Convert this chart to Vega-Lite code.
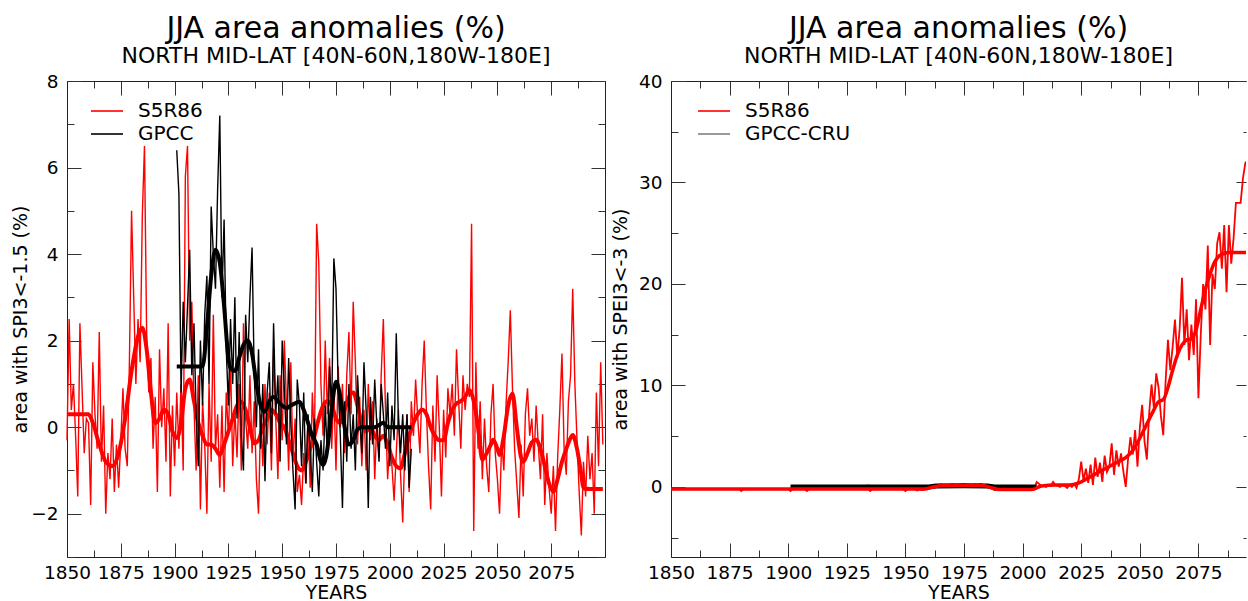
{
  "$schema": "https://vega.github.io/schema/vega-lite/v6.json",
  "background": "white",
  "padding": {"left": 11, "top": 14, "right": 0, "bottom": 0},
  "spacing": 0,
  "config": {
    "font": "DejaVu Sans",
    "view": {"stroke": null},
    "axis": {"domainColor": "#222", "domainWidth": 1, "tickColor": "#333", "tickWidth": 1, "labelFont": "DejaVu Sans", "labelFontSize": 18.5, "labelColor": "#000", "titleFont": "DejaVu Sans", "titleFontSize": 19, "titleFontWeight": "normal", "titleColor": "#000", "grid": false, "labelFlush": false, "labelOverlap": false, "labelBound": false},
    "title": {"font": "DejaVu Sans", "fontSize": 30, "fontWeight": "normal", "color": "#000", "subtitleFont": "DejaVu Sans", "subtitleFontSize": 22, "subtitleColor": "#000", "anchor": "middle", "offset": 5, "subtitlePadding": 2},
    "legend": {"labelFont": "DejaVu Sans", "labelFontSize": 20, "labelColor": "#000", "symbolType": "M-1.6,0H1.6", "symbolSize": 400, "symbolStrokeWidth": 1.6, "labelOffset": 20, "rowPadding": 2, "padding": 0, "orient": "none"}
  },
  "datasets": {
    "ls": [{"t":1850,"v":-0.3},{"t":1851,"v":2.5},{"t":1852,"v":0.4},{"t":1853,"v":1.0},{"t":1854,"v":-0.2},{"t":1855,"v":-1.6},{"t":1856,"v":2.4},{"t":1857,"v":0.9},{"t":1858,"v":-0.6},{"t":1859,"v":0.2},
      {"t":1860,"v":0.1},{"t":1861,"v":-1.8},{"t":1862,"v":1.5},{"t":1863,"v":0.3},{"t":1864,"v":-0.5},{"t":1865,"v":2.2},{"t":1866,"v":-0.8},{"t":1867,"v":0.5},{"t":1868,"v":-2.0},{"t":1869,"v":-0.6},
      {"t":1870,"v":-1.2},{"t":1871,"v":0.2},{"t":1872,"v":-1.5},{"t":1873,"v":-0.4},{"t":1874,"v":-1.4},{"t":1875,"v":-0.3},{"t":1876,"v":0.9},{"t":1877,"v":-0.5},{"t":1878,"v":-0.9},{"t":1879,"v":1.5},
      {"t":1880,"v":5.0},{"t":1881,"v":3.0},{"t":1882,"v":1.0},{"t":1883,"v":2.5},{"t":1884,"v":1.5},{"t":1885,"v":4.9},{"t":1886,"v":6.5},{"t":1887,"v":2.2},{"t":1888,"v":0.8},{"t":1889,"v":1.6},
      {"t":1890,"v":-0.5},{"t":1891,"v":0.7},{"t":1892,"v":-1.5},{"t":1893,"v":1.8},{"t":1894,"v":0.0},{"t":1895,"v":0.9},{"t":1896,"v":-0.8},{"t":1897,"v":2.4},{"t":1898,"v":-1.6},{"t":1899,"v":0.5},
      {"t":1900,"v":-0.9},{"t":1901,"v":0.8},{"t":1902,"v":-0.5},{"t":1903,"v":1.0},{"t":1904,"v":-1.0},{"t":1905,"v":5.8},{"t":1906,"v":6.5},{"t":1907,"v":2.0},{"t":1908,"v":2.9},{"t":1909,"v":0.5},
      {"t":1910,"v":-1.0},{"t":1911,"v":1.2},{"t":1912,"v":-1.9},{"t":1913,"v":0.6},{"t":1914,"v":-0.4},{"t":1915,"v":-2.0},{"t":1916,"v":1.0},{"t":1917,"v":-0.8},{"t":1918,"v":2.6},{"t":1919,"v":-0.5},
      {"t":1920,"v":0.3},{"t":1921,"v":-1.4},{"t":1922,"v":0.5},{"t":1923,"v":-1.5},{"t":1924,"v":0.8},{"t":1925,"v":-0.2},{"t":1926,"v":1.5},{"t":1927,"v":-0.9},{"t":1928,"v":0.4},{"t":1929,"v":-0.7},
      {"t":1930,"v":1.0},{"t":1931,"v":-1.0},{"t":1932,"v":2.4},{"t":1933,"v":0.2},{"t":1934,"v":-0.5},{"t":1935,"v":1.2},{"t":1936,"v":-0.6},{"t":1937,"v":0.6},{"t":1938,"v":-1.2},{"t":1939,"v":-2.0},
      {"t":1940,"v":0.3},{"t":1941,"v":-0.9},{"t":1942,"v":1.0},{"t":1943,"v":-0.4},{"t":1944,"v":0.8},{"t":1945,"v":-1.0},{"t":1946,"v":1.8},{"t":1947,"v":0.2},{"t":1948,"v":-1.2},{"t":1949,"v":1.2},
      {"t":1950,"v":-0.3},{"t":1951,"v":2.0},{"t":1952,"v":0.5},{"t":1953,"v":-1.0},{"t":1954,"v":1.5},{"t":1955,"v":-0.8},{"t":1956,"v":0.2},{"t":1957,"v":-1.5},{"t":1958,"v":-1.1},{"t":1959,"v":-1.8},
      {"t":1960,"v":-0.6},{"t":1961,"v":-1.3},{"t":1962,"v":0.2},{"t":1963,"v":-1.4},{"t":1964,"v":0.8},{"t":1965,"v":-0.4},{"t":1966,"v":4.7},{"t":1967,"v":3.8},{"t":1968,"v":1.0},{"t":1969,"v":-0.2},
      {"t":1970,"v":2.0},{"t":1971,"v":0.3},{"t":1972,"v":1.6},{"t":1973,"v":-0.5},{"t":1974,"v":0.9},{"t":1975,"v":-1.0},{"t":1976,"v":1.4},{"t":1977,"v":0.0},{"t":1978,"v":1.0},{"t":1979,"v":-0.6},
      {"t":1980,"v":1.2},{"t":1981,"v":2.2},{"t":1982,"v":0.3},{"t":1983,"v":2.9},{"t":1984,"v":1.5},{"t":1985,"v":-0.4},{"t":1986,"v":0.7},{"t":1987,"v":-0.9},{"t":1988,"v":0.4},{"t":1989,"v":-1.0},
      {"t":1990,"v":1.0},{"t":1991,"v":-0.3},{"t":1992,"v":0.6},{"t":1993,"v":-1.2},{"t":1994,"v":0.2},{"t":1995,"v":-0.7},{"t":1996,"v":1.2},{"t":1997,"v":2.5},{"t":1998,"v":0.4},{"t":1999,"v":-1.2},
      {"t":2000,"v":-0.3},{"t":2001,"v":-0.9},{"t":2002,"v":-1.7},{"t":2003,"v":-0.6},{"t":2004,"v":0.4},{"t":2005,"v":-1.1},{"t":2006,"v":-2.2},{"t":2007,"v":-0.5},{"t":2008,"v":0.3},{"t":2009,"v":-1.5},
      {"t":2010,"v":0.6},{"t":2011,"v":-0.2},{"t":2012,"v":1.1},{"t":2013,"v":0.2},{"t":2014,"v":-0.6},{"t":2015,"v":1.0},{"t":2016,"v":2.0},{"t":2017,"v":0.4},{"t":2018,"v":-0.9},{"t":2019,"v":-1.9},
      {"t":2020,"v":0.5},{"t":2021,"v":-0.8},{"t":2022,"v":1.2},{"t":2023,"v":0.0},{"t":2024,"v":-1.6},{"t":2025,"v":0.4},{"t":2026,"v":-0.7},{"t":2027,"v":0.9},{"t":2028,"v":0.3},{"t":2029,"v":1.0},
      {"t":2030,"v":-0.2},{"t":2031,"v":1.8},{"t":2032,"v":0.6},{"t":2033,"v":-0.5},{"t":2034,"v":1.2},{"t":2035,"v":0.4},{"t":2036,"v":1.0},{"t":2037,"v":0.7},{"t":2038,"v":4.7},{"t":2039,"v":-2.4},
      {"t":2040,"v":1.5},{"t":2041,"v":-0.5},{"t":2042,"v":0.6},{"t":2043,"v":-1.2},{"t":2044,"v":0.2},{"t":2045,"v":-0.9},{"t":2046,"v":-1.5},{"t":2047,"v":0.3},{"t":2048,"v":1.0},{"t":2049,"v":-0.6},
      {"t":2050,"v":-1.2},{"t":2051,"v":-2.0},{"t":2052,"v":-0.3},{"t":2053,"v":-1.0},{"t":2054,"v":0.5},{"t":2055,"v":1.5},{"t":2056,"v":2.7},{"t":2057,"v":0.9},{"t":2058,"v":-0.5},{"t":2059,"v":-1.3},
      {"t":2060,"v":-2.1},{"t":2061,"v":-0.4},{"t":2062,"v":-1.6},{"t":2063,"v":0.3},{"t":2064,"v":0.9},{"t":2065,"v":-0.2},{"t":2066,"v":0.2},{"t":2067,"v":-0.8},{"t":2068,"v":0.5},{"t":2069,"v":-0.4},
      {"t":2070,"v":-1.2},{"t":2071,"v":0.3},{"t":2072,"v":-1.8},{"t":2073,"v":-0.6},{"t":2074,"v":-1.4},{"t":2075,"v":-2.0},{"t":2076,"v":-0.9},{"t":2077,"v":-2.4},{"t":2078,"v":-0.7},{"t":2079,"v":0.4},
      {"t":2080,"v":1.7},{"t":2081,"v":-0.5},{"t":2082,"v":-1.1},{"t":2083,"v":0.6},{"t":2084,"v":1.2},{"t":2085,"v":3.2},{"t":2086,"v":1.0},{"t":2087,"v":-0.3},{"t":2088,"v":-1.5},{"t":2089,"v":-2.5},
      {"t":2090,"v":-0.8},{"t":2091,"v":-1.6},{"t":2092,"v":-0.2},{"t":2093,"v":-1.2},{"t":2094,"v":-0.6},{"t":2095,"v":-2.0},{"t":2096,"v":0.8},{"t":2097,"v":-0.9},{"t":2098,"v":1.5},{"t":2099,"v":-0.4}],
    "lss": [{"t":1850,"v":0.3},{"t":1853,"v":0.3},{"t":1856,"v":0.3},{"t":1860,"v":0.3},{"t":1862,"v":0.1},{"t":1865,"v":-0.4},{"t":1868,"v":-0.8},{"t":1871,"v":-0.9},{"t":1874,"v":-0.6},{"t":1877,"v":0.2},
      {"t":1880,"v":1.3},{"t":1883,"v":2.1},{"t":1885,"v":2.3},{"t":1887,"v":1.8},{"t":1889,"v":0.8},{"t":1891,"v":0.1},{"t":1893,"v":0.2},{"t":1895,"v":0.4},{"t":1897,"v":0.3},{"t":1899,"v":-0.1},
      {"t":1901,"v":-0.25},{"t":1903,"v":0.1},{"t":1905,"v":0.9},{"t":1907,"v":1.1},{"t":1909,"v":0.6},{"t":1911,"v":0.1},{"t":1913,"v":-0.2},{"t":1915,"v":-0.4},{"t":1917,"v":-0.4},{"t":1919,"v":-0.5},
      {"t":1921,"v":-0.64},{"t":1923,"v":-0.4},{"t":1925,"v":-0.1},{"t":1927,"v":0.2},{"t":1929,"v":0.5},{"t":1931,"v":0.59},{"t":1933,"v":0.4},{"t":1935,"v":0.0},{"t":1937,"v":-0.37},{"t":1939,"v":-0.3},
      {"t":1941,"v":0.0},{"t":1943,"v":0.2},{"t":1945,"v":0.4},{"t":1947,"v":0.3},{"t":1949,"v":0.1},{"t":1951,"v":0.0},{"t":1953,"v":-0.3},{"t":1955,"v":-0.6},{"t":1957,"v":-0.9},{"t":1959,"v":-1.0},
      {"t":1961,"v":-0.8},{"t":1963,"v":-0.5},{"t":1965,"v":-0.2},{"t":1967,"v":0.2},{"t":1969,"v":0.5},{"t":1971,"v":0.6},{"t":1973,"v":0.5},{"t":1975,"v":0.2},{"t":1977,"v":0.1},{"t":1979,"v":0.4},
      {"t":1981,"v":0.7},{"t":1983,"v":0.8},{"t":1985,"v":0.5},{"t":1987,"v":0.1},{"t":1989,"v":-0.1},{"t":1991,"v":0.0},{"t":1993,"v":-0.2},{"t":1995,"v":-0.3},{"t":1997,"v":-0.2},{"t":1999,"v":-0.4},
      {"t":2001,"v":-0.7},{"t":2003,"v":-0.9},{"t":2005,"v":-0.95},{"t":2007,"v":-0.6},{"t":2009,"v":-0.2},{"t":2011,"v":0.1},{"t":2013,"v":0.3},{"t":2015,"v":0.4},{"t":2017,"v":0.3},{"t":2019,"v":0.0},
      {"t":2021,"v":-0.2},{"t":2023,"v":-0.3},{"t":2025,"v":-0.3},{"t":2027,"v":0.1},{"t":2029,"v":0.4},{"t":2031,"v":0.55},{"t":2033,"v":0.6},{"t":2035,"v":0.7},{"t":2037,"v":0.86},{"t":2039,"v":0.6},
      {"t":2041,"v":0.0},{"t":2043,"v":-0.75},{"t":2045,"v":-0.6},{"t":2047,"v":-0.4},{"t":2048,"v":-0.29},{"t":2050,"v":-0.5},{"t":2051,"v":-0.64},{"t":2053,"v":-0.2},{"t":2055,"v":0.5},{"t":2057,"v":0.78},
      {"t":2059,"v":0.0},{"t":2061,"v":-0.7},{"t":2062,"v":-0.8},{"t":2064,"v":-0.6},{"t":2066,"v":-0.35},{"t":2068,"v":-0.29},{"t":2070,"v":-0.5},{"t":2072,"v":-0.9},{"t":2074,"v":-1.3},{"t":2076,"v":-1.49},
      {"t":2078,"v":-1.2},{"t":2080,"v":-0.8},{"t":2082,"v":-0.5},{"t":2084,"v":-0.25},{"t":2085,"v":-0.18},{"t":2087,"v":-0.5},{"t":2089,"v":-1.1},{"t":2090,"v":-1.41},{"t":2093,"v":-1.43},{"t":2096,"v":-1.43},{"t":2099,"v":-1.43}],
    "lg": [{"t":1901,"v":6.4},{"t":1902,"v":5.4},{"t":1903,"v":0.8},{"t":1904,"v":2.9},{"t":1905,"v":1.5},{"t":1906,"v":2.8},{"t":1907,"v":4.1},{"t":1908,"v":1.2},{"t":1909,"v":2.4},
      {"t":1910,"v":0.3},{"t":1911,"v":-0.9},{"t":1912,"v":2.0},{"t":1913,"v":0.5},{"t":1914,"v":2.6},{"t":1915,"v":3.5},{"t":1916,"v":1.0},{"t":1917,"v":5.1},{"t":1918,"v":4.0},{"t":1919,"v":3.2},
      {"t":1920,"v":5.5},{"t":1921,"v":7.2},{"t":1922,"v":3.0},{"t":1923,"v":4.8},{"t":1924,"v":1.8},{"t":1925,"v":0.5},{"t":1926,"v":2.5},{"t":1927,"v":1.0},{"t":1928,"v":3.0},{"t":1929,"v":0.2},
      {"t":1930,"v":2.2},{"t":1931,"v":-0.2},{"t":1932,"v":-1.0},{"t":1933,"v":2.6},{"t":1934,"v":1.5},{"t":1935,"v":3.0},{"t":1936,"v":4.15},{"t":1937,"v":1.2},{"t":1938,"v":0.0},{"t":1939,"v":1.8},
      {"t":1940,"v":-0.5},{"t":1941,"v":1.0},{"t":1942,"v":-1.25},{"t":1943,"v":0.8},{"t":1944,"v":1.5},{"t":1945,"v":-0.6},{"t":1946,"v":2.4},{"t":1947,"v":0.3},{"t":1948,"v":1.2},{"t":1949,"v":-0.8},
      {"t":1950,"v":2.0},{"t":1951,"v":0.9},{"t":1952,"v":-0.4},{"t":1953,"v":1.6},{"t":1954,"v":0.1},{"t":1955,"v":-1.0},{"t":1956,"v":-1.9},{"t":1957,"v":1.1},{"t":1958,"v":0.5},{"t":1959,"v":-0.9},
      {"t":1960,"v":0.8},{"t":1961,"v":-1.3},{"t":1962,"v":0.3},{"t":1963,"v":-0.5},{"t":1964,"v":-1.5},{"t":1965,"v":0.2},{"t":1966,"v":-0.8},{"t":1967,"v":-1.6},{"t":1968,"v":-0.3},{"t":1969,"v":-1.0},
      {"t":1970,"v":0.5},{"t":1971,"v":-0.7},{"t":1972,"v":1.4},{"t":1973,"v":0.4},{"t":1974,"v":3.9},{"t":1975,"v":3.2},{"t":1976,"v":1.0},{"t":1977,"v":-0.2},{"t":1978,"v":-1.87},{"t":1979,"v":0.6},
      {"t":1980,"v":-0.8},{"t":1981,"v":1.0},{"t":1982,"v":-0.5},{"t":1983,"v":0.3},{"t":1984,"v":-1.0},{"t":1985,"v":1.2},{"t":1986,"v":0.2},{"t":1987,"v":-0.6},{"t":1988,"v":1.5},{"t":1989,"v":0.4},
      {"t":1990,"v":-1.87},{"t":1991,"v":0.7},{"t":1992,"v":-0.4},{"t":1993,"v":1.1},{"t":1994,"v":0.0},{"t":1995,"v":-0.8},{"t":1996,"v":1.0},{"t":1997,"v":0.3},{"t":1998,"v":-0.5},{"t":1999,"v":0.8},
      {"t":2000,"v":-0.9},{"t":2001,"v":0.5},{"t":2002,"v":-0.3},{"t":2003,"v":2.17},{"t":2004,"v":0.2},{"t":2005,"v":-0.6},{"t":2006,"v":0.3},{"t":2007,"v":-1.0},{"t":2008,"v":0.3},{"t":2009,"v":-1.4},{"t":2010,"v":-0.5}],
    "lgs": [{"t":1901,"v":1.4},{"t":1904,"v":1.4},{"t":1907,"v":1.4},{"t":1910,"v":1.4},{"t":1913,"v":1.4},{"t":1915,"v":2.3},{"t":1917,"v":3.5},{"t":1919,"v":4.1},{"t":1921,"v":3.8},{"t":1923,"v":2.8},
      {"t":1925,"v":1.6},{"t":1926,"v":1.36},{"t":1928,"v":1.3},{"t":1930,"v":1.6},{"t":1932,"v":1.9},{"t":1934,"v":2.0},{"t":1936,"v":1.7},{"t":1938,"v":1.0},{"t":1940,"v":0.5},{"t":1942,"v":0.36},
      {"t":1944,"v":0.6},{"t":1946,"v":0.7},{"t":1948,"v":0.6},{"t":1950,"v":0.5},{"t":1952,"v":0.44},{"t":1954,"v":0.5},{"t":1956,"v":0.55},{"t":1958,"v":0.59},{"t":1960,"v":0.4},{"t":1962,"v":0.1},
      {"t":1964,"v":-0.2},{"t":1966,"v":-0.4},{"t":1968,"v":-0.8},{"t":1969,"v":-0.87},{"t":1971,"v":-0.5},{"t":1973,"v":0.4},{"t":1975,"v":1.05},{"t":1977,"v":0.7},{"t":1979,"v":0.0},{"t":1981,"v":-0.4},
      {"t":1983,"v":-0.3},{"t":1985,"v":-0.05},{"t":1987,"v":0.0},{"t":1990,"v":0.0},{"t":1993,"v":0.0},{"t":1995,"v":0.05},{"t":1997,"v":0.1},{"t":1999,"v":0.0},{"t":2001,"v":0.0},{"t":2004,"v":0.0},{"t":2007,"v":0.0},{"t":2010,"v":0.0}],
    "rs": [{"t":1850,"v":-0.2},{"t":1851,"v":-0.2},{"t":1852,"v":-0.2},{"t":1853,"v":-0.2},{"t":1854,"v":-0.2},{"t":1855,"v":-0.2},{"t":1856,"v":-0.2},{"t":1857,"v":-0.2},{"t":1858,"v":-0.2},{"t":1859,"v":-0.2},
      {"t":1860,"v":-0.2},{"t":1861,"v":-0.2},{"t":1862,"v":-0.2},{"t":1863,"v":-0.2},{"t":1864,"v":-0.2},{"t":1865,"v":-0.2},{"t":1866,"v":-0.2},{"t":1867,"v":-0.2},{"t":1868,"v":-0.2},{"t":1869,"v":-0.2},
      {"t":1870,"v":-0.2},{"t":1871,"v":-0.2},{"t":1872,"v":-0.2},{"t":1873,"v":-0.2},{"t":1874,"v":-0.2},{"t":1875,"v":-0.2},{"t":1876,"v":-0.2},{"t":1877,"v":-0.2},{"t":1878,"v":-0.2},{"t":1879,"v":-0.2},
      {"t":1880,"v":-0.4},{"t":1881,"v":-0.2},{"t":1882,"v":-0.2},{"t":1883,"v":-0.2},{"t":1884,"v":-0.2},{"t":1885,"v":-0.2},{"t":1886,"v":-0.2},{"t":1887,"v":-0.2},{"t":1888,"v":-0.2},{"t":1889,"v":-0.2},
      {"t":1890,"v":-0.2},{"t":1891,"v":-0.2},{"t":1892,"v":-0.2},{"t":1893,"v":-0.2},{"t":1894,"v":-0.2},{"t":1895,"v":-0.2},{"t":1896,"v":-0.2},{"t":1897,"v":-0.2},{"t":1898,"v":-0.2},{"t":1899,"v":-0.2},
      {"t":1900,"v":-0.2},{"t":1901,"v":-0.4},{"t":1902,"v":-0.2},{"t":1903,"v":-0.2},{"t":1904,"v":-0.2},{"t":1905,"v":-0.2},{"t":1906,"v":-0.2},{"t":1907,"v":-0.2},{"t":1908,"v":-0.4},{"t":1909,"v":-0.2},
      {"t":1910,"v":-0.2},{"t":1911,"v":-0.2},{"t":1912,"v":-0.2},{"t":1913,"v":-0.2},{"t":1914,"v":-0.2},{"t":1915,"v":-0.2},{"t":1916,"v":-0.2},{"t":1917,"v":-0.2},{"t":1918,"v":-0.2},{"t":1919,"v":-0.2},
      {"t":1920,"v":-0.2},{"t":1921,"v":-0.2},{"t":1922,"v":-0.2},{"t":1923,"v":-0.2},{"t":1924,"v":-0.2},{"t":1925,"v":-0.2},{"t":1926,"v":-0.2},{"t":1927,"v":-0.2},{"t":1928,"v":-0.2},{"t":1929,"v":-0.2},
      {"t":1930,"v":-0.2},{"t":1931,"v":-0.2},{"t":1932,"v":-0.2},{"t":1933,"v":-0.2},{"t":1934,"v":-0.2},{"t":1935,"v":-0.4},{"t":1936,"v":-0.2},{"t":1937,"v":-0.2},{"t":1938,"v":-0.2},{"t":1939,"v":-0.2},
      {"t":1940,"v":-0.2},{"t":1941,"v":-0.2},{"t":1942,"v":-0.2},{"t":1943,"v":-0.2},{"t":1944,"v":-0.2},{"t":1945,"v":-0.2},{"t":1946,"v":-0.2},{"t":1947,"v":-0.2},{"t":1948,"v":-0.2},{"t":1949,"v":-0.2},
      {"t":1950,"v":-0.4},{"t":1951,"v":-0.2},{"t":1952,"v":-0.2},{"t":1953,"v":-0.2},{"t":1954,"v":-0.2},{"t":1955,"v":-0.35},{"t":1956,"v":-0.25},{"t":1957,"v":-0.3},{"t":1958,"v":-0.25},{"t":1959,"v":-0.2},
      {"t":1960,"v":-0.1},{"t":1961,"v":0.0},{"t":1962,"v":0.1},{"t":1963,"v":0.2},{"t":1964,"v":0.2},{"t":1965,"v":0.25},{"t":1966,"v":0.2},{"t":1967,"v":0.15},{"t":1968,"v":0.2},{"t":1969,"v":0.2},
      {"t":1970,"v":0.25},{"t":1971,"v":0.2},{"t":1972,"v":0.15},{"t":1973,"v":0.2},{"t":1974,"v":0.25},{"t":1975,"v":0.3},{"t":1976,"v":0.2},{"t":1977,"v":0.2},{"t":1978,"v":0.15},{"t":1979,"v":0.2},
      {"t":1980,"v":0.25},{"t":1981,"v":0.2},{"t":1982,"v":0.3},{"t":1983,"v":0.2},{"t":1984,"v":0.15},{"t":1985,"v":0.1},{"t":1986,"v":0.0},{"t":1987,"v":-0.2},{"t":1988,"v":-0.3},{"t":1989,"v":-0.25},
      {"t":1990,"v":-0.3},{"t":1991,"v":-0.25},{"t":1992,"v":-0.3},{"t":1993,"v":-0.2},{"t":1994,"v":-0.3},{"t":1995,"v":-0.25},{"t":1996,"v":-0.3},{"t":1997,"v":-0.2},{"t":1998,"v":-0.3},{"t":1999,"v":-0.25},
      {"t":2000,"v":-0.1},{"t":2001,"v":-0.2},{"t":2002,"v":-0.2},{"t":2003,"v":-0.1},{"t":2004,"v":-0.2},{"t":2005,"v":-0.1},{"t":2006,"v":0.5},{"t":2007,"v":0.3},{"t":2008,"v":0.1},{"t":2009,"v":0.2},
      {"t":2010,"v":0.0},{"t":2011,"v":0.2},{"t":2012,"v":0.1},{"t":2013,"v":0.5},{"t":2014,"v":0.2},{"t":2015,"v":0.1},{"t":2016,"v":0.0},{"t":2017,"v":0.2},{"t":2018,"v":0.1},{"t":2019,"v":-0.1},
      {"t":2020,"v":0.2},{"t":2021,"v":0.0},{"t":2022,"v":0.3},{"t":2023,"v":-0.1},{"t":2024,"v":0.8},{"t":2025,"v":2.5},{"t":2026,"v":0.6},{"t":2027,"v":1.8},{"t":2028,"v":0.4},{"t":2029,"v":2.2},
      {"t":2030,"v":0.2},{"t":2031,"v":2.9},{"t":2032,"v":1.0},{"t":2033,"v":2.4},{"t":2034,"v":0.5},{"t":2035,"v":3.1},{"t":2036,"v":1.5},{"t":2037,"v":2.0},{"t":2038,"v":4.3},{"t":2039,"v":1.2},
      {"t":2040,"v":3.6},{"t":2041,"v":2.0},{"t":2042,"v":3.3},{"t":2043,"v":1.5},{"t":2044,"v":0.0},{"t":2045,"v":2.8},{"t":2046,"v":4.9},{"t":2047,"v":3.2},{"t":2048,"v":5.6},{"t":2049,"v":2.0},
      {"t":2050,"v":5.8},{"t":2051,"v":8.1},{"t":2052,"v":4.5},{"t":2053,"v":2.7},{"t":2054,"v":7.3},{"t":2055,"v":10.1},{"t":2056,"v":7.8},{"t":2057,"v":11.2},{"t":2058,"v":9.8},{"t":2059,"v":7.0},
      {"t":2060,"v":5.1},{"t":2061,"v":10.4},{"t":2062,"v":14.5},{"t":2063,"v":11.5},{"t":2064,"v":13.8},{"t":2065,"v":16.5},{"t":2066,"v":12.8},{"t":2067,"v":15.6},{"t":2068,"v":20.6},{"t":2069,"v":14.0},
      {"t":2070,"v":17.5},{"t":2071,"v":12.5},{"t":2072,"v":16.0},{"t":2073,"v":13.0},{"t":2074,"v":18.5},{"t":2075,"v":8.75},{"t":2076,"v":15.0},{"t":2077,"v":20.0},{"t":2078,"v":17.5},{"t":2079,"v":23.8},
      {"t":2080,"v":14.0},{"t":2081,"v":21.0},{"t":2082,"v":19.5},{"t":2083,"v":24.0},{"t":2084,"v":25.1},{"t":2085,"v":21.5},{"t":2086,"v":25.8},{"t":2087,"v":19.2},{"t":2088,"v":25.8},{"t":2089,"v":22.0},
      {"t":2090,"v":24.5},{"t":2091,"v":28.0},{"t":2092,"v":28.0},{"t":2093,"v":28.0},{"t":2094,"v":30.4},{"t":2095,"v":31.9},{"t":2096,"v":32.2},{"t":2097,"v":32.4},{"t":2098,"v":32.6},{"t":2099,"v":33.0}],
    "rss": [{"t":1850,"v":-0.2},{"t":1880,"v":-0.2},{"t":1900,"v":-0.2},{"t":1930,"v":-0.2},{"t":1958,"v":-0.2},{"t":1962,"v":0.0},{"t":1966,"v":0.15},{"t":1975,"v":0.18},{"t":1983,"v":0.15},{"t":1987,"v":-0.1},
      {"t":1990,"v":-0.25},{"t":1997,"v":-0.25},{"t":2004,"v":-0.25},{"t":2008,"v":0.1},{"t":2014,"v":0.2},{"t":2020,"v":0.2},{"t":2024,"v":0.4},{"t":2028,"v":0.9},{"t":2032,"v":1.4},{"t":2036,"v":1.9},
      {"t":2040,"v":2.4},{"t":2044,"v":2.9},{"t":2047,"v":3.6},{"t":2050,"v":4.8},{"t":2053,"v":6.2},{"t":2056,"v":7.6},{"t":2058,"v":8.4},{"t":2060,"v":8.6},{"t":2062,"v":9.8},{"t":2064,"v":11.5},
      {"t":2066,"v":13.0},{"t":2068,"v":14.0},{"t":2070,"v":14.5},{"t":2072,"v":14.6},{"t":2074,"v":15.5},{"t":2076,"v":17.5},{"t":2078,"v":19.5},{"t":2080,"v":21.0},{"t":2082,"v":22.2},{"t":2084,"v":22.8},
      {"t":2086,"v":23.0},{"t":2088,"v":23.1},{"t":2092,"v":23.1},{"t":2096,"v":23.1},{"t":2099,"v":23.1}],
    "rg": [{"t":1901,"v":0.0},{"t":1905,"v":0.05},{"t":1910,"v":0.0},{"t":1915,"v":0.05},{"t":1920,"v":0.0},{"t":1925,"v":0.05},{"t":1930,"v":0.0},{"t":1934,"v":0.15},{"t":1938,"v":0.0},{"t":1945,"v":0.05},
      {"t":1950,"v":0.0},{"t":1955,"v":0.05},{"t":1960,"v":0.0},{"t":1963,"v":0.15},{"t":1968,"v":0.1},{"t":1972,"v":0.2},{"t":1976,"v":0.1},{"t":1980,"v":0.15},{"t":1984,"v":0.1},{"t":1988,"v":0.0},
      {"t":1992,"v":0.05},{"t":1996,"v":0.0},{"t":2000,"v":0.05},{"t":2003,"v":0.0},{"t":2006,"v":0.0}],
    "rgs": [{"t":1901,"v":0.0},{"t":1915,"v":0.0},{"t":1930,"v":0.0},{"t":1945,"v":0.0},{"t":1960,"v":0.0},{"t":1963,"v":0.1},{"t":1975,"v":0.12},{"t":1985,"v":0.1},{"t":1988,"v":0.0},{"t":2000,"v":0.0},{"t":2006,"v":0.0}]
  },
  "resolve": {"scale": {"x": "independent", "y": "independent", "color": "independent"}, "legend": {"color": "independent"}},
  "hconcat": [
    {
      "width": 538,
      "height": 476,
      "title": {"text": "JJA area anomalies (%)", "subtitle": "NORTH MID-LAT [40N-60N,180W-180E]"},
      "layer": [
        {
          "data": {"name": "ls"},
          "mark": {"type": "line", "strokeWidth": 1.4},
          "encoding": {
            "x": {"field": "t", "type": "quantitative", "scale": {"domain": [1850, 2100], "nice": false, "zero": false},
              "axis": {"orient": "bottom", "values": [1850,1862.5,1875,1887.5,1900,1912.5,1925,1937.5,1950,1962.5,1975,1987.5,2000,2012.5,2025,2037.5,2050,2062.5,2075,2087.5,2100], "format": "d",
                "labelExpr": "datum.value % 25 === 0 && datum.value < 2100 ? datum.label : ''",
                "tickSize": {"condition": {"test": "datum.value % 25 === 0", "value": -14}, "value": -7},
                "labelPadding": 20, "title": "YEARS", "titlePadding": -5}},
            "y": {"field": "v", "type": "quantitative", "scale": {"domain": [-3, 8], "nice": false, "zero": false},
              "axis": {"orient": "left", "values": [-3,-2,-1,0,1,2,3,4,5,6,7,8],
                "labelExpr": "datum.value % 2 === 0 ? datum.label : ''",
                "tickSize": {"condition": {"test": "datum.value % 2 === 0", "value": -14}, "value": -7},
                "labelPadding": 23, "title": "area with SPI3<-1.5 (%)", "titlePadding": 0}},
            "color": {"datum": "S5R86", "type": "nominal", "scale": {"domain": ["S5R86", "GPCC"], "range": ["#ff0000", "#000000"]},
              "legend": {"title": null, "orient": "none", "legendX": 29, "legendY": 19}}
          }
        },
        {
          "data": {"name": "lss"},
          "mark": {"type": "line", "strokeWidth": 4, "interpolate": "monotone"},
          "encoding": {
            "x": {"field": "t", "type": "quantitative", "scale": {"domain": [1850, 2100], "nice": false, "zero": false},
              "axis": {"orient": "top", "values": [1850,1862.5,1875,1887.5,1900,1912.5,1925,1937.5,1950,1962.5,1975,1987.5,2000,2012.5,2025,2037.5,2050,2062.5,2075,2087.5,2100],
                "labels": false, "title": null,
                "tickSize": {"condition": {"test": "datum.value % 25 === 0", "value": -14}, "value": -7}}},
            "y": {"field": "v", "type": "quantitative", "scale": {"domain": [-3, 8], "nice": false, "zero": false},
              "axis": {"orient": "right", "values": [-3,-2,-1,0,1,2,3,4,5,6,7,8], "labels": false, "title": null,
                "tickSize": {"condition": {"test": "datum.value % 2 === 0", "value": -14}, "value": -7}}},
            "color": {"datum": "S5R86", "type": "nominal"}
          }
        },
        {
          "data": {"name": "lg"},
          "mark": {"type": "line", "strokeWidth": 1.4},
          "encoding": {
            "x": {"field": "t", "type": "quantitative", "scale": {"domain": [1850, 2100], "nice": false, "zero": false}, "axis": null},
            "y": {"field": "v", "type": "quantitative", "scale": {"domain": [-3, 8], "nice": false, "zero": false}, "axis": null},
            "color": {"datum": "GPCC", "type": "nominal"}
          }
        },
        {
          "data": {"name": "lgs"},
          "mark": {"type": "line", "strokeWidth": 4, "interpolate": "monotone"},
          "encoding": {
            "x": {"field": "t", "type": "quantitative", "scale": {"domain": [1850, 2100], "nice": false, "zero": false}, "axis": null},
            "y": {"field": "v", "type": "quantitative", "scale": {"domain": [-3, 8], "nice": false, "zero": false}, "axis": null},
            "color": {"datum": "GPCC", "type": "nominal"}
          }
        }
      ]
    },
    {
      "width": 575,
      "height": 476,
      "title": {"text": "JJA area anomalies (%)", "subtitle": "NORTH MID-LAT [40N-60N,180W-180E]"},
      "layer": [
        {
          "data": {"name": "rg"},
          "mark": {"type": "line", "strokeWidth": 2, "clip": true},
          "encoding": {
            "x": {"field": "t", "type": "quantitative", "scale": {"domain": [1850, 2095.3], "nice": false, "zero": false},
              "axis": {"orient": "bottom", "values": [1850,1862.5,1875,1887.5,1900,1912.5,1925,1937.5,1950,1962.5,1975,1987.5,2000,2012.5,2025,2037.5,2050,2062.5,2075,2087.5], "format": "d",
                "labelExpr": "datum.value % 25 === 0 && datum.value < 2100 ? datum.label : ''",
                "tickSize": {"condition": {"test": "datum.value % 25 === 0", "value": -14}, "value": -7},
                "labelPadding": 20, "title": "YEARS", "titlePadding": -5}},
            "y": {"field": "v", "type": "quantitative", "scale": {"domain": [-6.9, 40], "nice": false, "zero": false},
              "axis": {"orient": "left", "values": [-5,0,5,10,15,20,25,30,35,40],
                "labelExpr": "datum.value % 10 === 0 ? datum.label : ''",
                "tickSize": {"condition": {"test": "datum.value % 10 === 0", "value": -14}, "value": -7},
                "labelPadding": 23, "title": "area with SPEI3<-3 (%)", "titlePadding": 8}},
            "color": {"datum": "GPCC-CRU", "type": "nominal", "scale": {"domain": ["S5R86", "GPCC-CRU"], "range": ["#ff0000", "#808080"]},
              "legend": {"title": null, "orient": "none", "legendX": 32, "legendY": 19}}
          }
        },
        {
          "data": {"name": "rs"},
          "mark": {"type": "line", "strokeWidth": 1.8, "clip": true},
          "encoding": {
            "x": {"field": "t", "type": "quantitative", "scale": {"domain": [1850, 2095.3], "nice": false, "zero": false},
              "axis": {"orient": "top", "values": [1850,1862.5,1875,1887.5,1900,1912.5,1925,1937.5,1950,1962.5,1975,1987.5,2000,2012.5,2025,2037.5,2050,2062.5,2075,2087.5],
                "labels": false, "title": null,
                "tickSize": {"condition": {"test": "datum.value % 25 === 0", "value": -14}, "value": -7}}},
            "y": {"field": "v", "type": "quantitative", "scale": {"domain": [-6.9, 40], "nice": false, "zero": false},
              "axis": {"orient": "right", "values": [-5,0,5,10,15,20,25,30,35,40], "labels": false, "title": null, "domain": false,
                "tickSize": {"condition": {"test": "datum.value % 10 === 0", "value": -10}, "value": -3}}},
            "color": {"datum": "S5R86", "type": "nominal"}
          }
        },
        {
          "data": {"name": "rgs"},
          "mark": {"type": "line", "strokeWidth": 5, "color": "#000000", "clip": true},
          "encoding": {
            "x": {"field": "t", "type": "quantitative", "scale": {"domain": [1850, 2095.3], "nice": false, "zero": false}, "axis": null},
            "y": {"field": "v", "type": "quantitative", "scale": {"domain": [-6.9, 40], "nice": false, "zero": false}, "axis": null}
          }
        },
        {
          "data": {"name": "rss"},
          "mark": {"type": "line", "strokeWidth": 3.5, "interpolate": "monotone", "clip": true},
          "encoding": {
            "x": {"field": "t", "type": "quantitative", "scale": {"domain": [1850, 2095.3], "nice": false, "zero": false}, "axis": null},
            "y": {"field": "v", "type": "quantitative", "scale": {"domain": [-6.9, 40], "nice": false, "zero": false}, "axis": null},
            "color": {"datum": "S5R86", "type": "nominal"}
          }
        }
      ]
    }
  ]
}
